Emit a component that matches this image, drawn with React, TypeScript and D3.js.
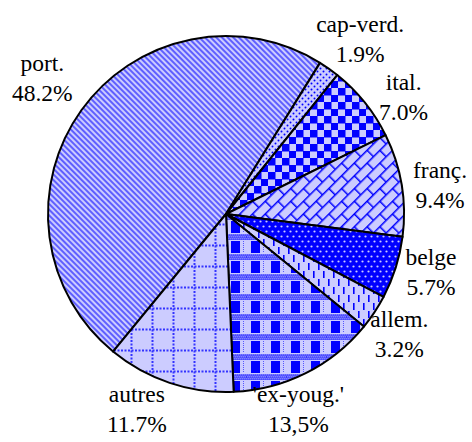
import React from "react";
import * as d3 from "d3";

const categories = ["port.", "cap-verd.", "ital.", "franç.", "belge", "allem.", "'ex-youg.'", "autres"];
const values = [48.2, 1.9, 7.0, 9.4, 5.7, 3.2, 13.5, 11.7];
const percentLabels = ["48.2%", "1.9%", "7.0%", "9.4%", "5.7%", "3.2%", "13,5%", "11.7%"];

// layout constants
const W = 472;
const H = 442;
const CX = 226;
const CY = 214;
const R = 178;
const LABEL_R = 215;
const START = (-140.6 * Math.PI) / 180;
const LIGHT = "#ccccff";
const BLUE = "#0000ff";
const FONT = "'Liberation Serif', 'DejaVu Serif', 'Times New Roman', Times, serif";
const labelNudge: Record<string, [number, number]> = {
  "port.": [-9, -3],
  "cap-verd.": [10, 9],
  "ital.": [10, 26],
  "franç.": [2, 14],
  "belge": [0, 1],
  "allem.": [-6, 9],
  "'ex-youg.'": [-24, 11],
  "autres": [-21, -1],
};

function Patterns() {
  const bandDots: JSX.Element[] = [];
  for (let j = 0; j < 3; j++) {
    for (let i = 0; i < 10; i++) {
      bandDots.push(
        <rect key={`b${i}-${j}`} x={i * 2 + (j % 2) + 0.3} y={j * 2 + 0.3} width={1.1} height={1.1} fill={LIGHT} />
      );
    }
  }
  return (
    <defs>
      {/* port: diagonal stripes */}
      <pattern id="p0" patternUnits="userSpaceOnUse" width={4} height={4} patternTransform="rotate(45)">
        <rect width={4} height={4} fill={LIGHT} />
        <line x1={0} y1={2} x2={4} y2={2} stroke="#3a3aff" strokeWidth={1.5} />
      </pattern>
      {/* cap-verd: small dots */}
      <pattern id="p1" patternUnits="userSpaceOnUse" width={6} height={6}>
        <rect width={6} height={6} fill={LIGHT} />
        <circle cx={1.5} cy={1.5} r={1} fill={BLUE} />
        <circle cx={4.5} cy={4.5} r={1} fill={BLUE} />
      </pattern>
      {/* ital: checkerboard */}
      <pattern id="p2" patternUnits="userSpaceOnUse" width={14} height={14}>
        <rect width={14} height={14} fill={LIGHT} />
        <rect x={0} y={0} width={7.5} height={7.5} fill={BLUE} />
        <rect x={7} y={7} width={7.5} height={7.5} fill={BLUE} />
      </pattern>
      {/* franç: bricks */}
      <pattern id="p3" patternUnits="userSpaceOnUse" width={18} height={18} patternTransform="rotate(-45)">
        <rect width={18} height={18} fill={LIGHT} />
        <path d="M0,0.75H18M0,9.75H18M0.75,0V9.75M9.75,9.75V18" stroke={BLUE} strokeWidth={1.5} fill="none" />
      </pattern>
      {/* belge: blue with light dots */}
      <pattern id="p4" patternUnits="userSpaceOnUse" width={6} height={10}>
        <rect width={6} height={10} fill={BLUE} />
        <circle cx={1.5} cy={2.5} r={1.1} fill={LIGHT} />
        <circle cx={4.5} cy={7.5} r={1.1} fill={LIGHT} />
      </pattern>
      {/* allem: short vertical dashes */}
      <pattern id="p5" patternUnits="userSpaceOnUse" width={10} height={16}>
        <rect width={10} height={16} fill={LIGHT} />
        <rect x={2} y={1} width={1.6} height={7} fill={BLUE} />
        <rect x={7} y={9} width={1.6} height={7} fill={BLUE} />
      </pattern>
      {/* ex-youg: bands and blocks */}
      <pattern id="p6" patternUnits="userSpaceOnUse" width={20} height={20}>
        <rect width={20} height={20} fill={LIGHT} />
        <rect x={0} y={0} width={20} height={6} fill="#3333ff" />
        {bandDots}
        <rect x={5} y={7} width={9} height={12} fill={BLUE} />
        <line x1={17.5} y1={7} x2={17.5} y2={19} stroke="#5555ff" strokeWidth={1} strokeDasharray="1 1" />
      </pattern>
      {/* autres: dotted grid */}
      <pattern id="p7" patternUnits="userSpaceOnUse" width={21} height={21}>
        <rect width={21} height={21} fill={LIGHT} />
        <line x1={0} y1={10.5} x2={21} y2={10.5} stroke="#3333ff" strokeWidth={2} strokeDasharray="2 1.5" />
        <line x1={10.5} y1={0} x2={10.5} y2={21} stroke="#3333ff" strokeWidth={2} strokeDasharray="2 1.5" />
      </pattern>
    </defs>
  );
}

export default function App() {
  const data = categories.map((c, i) => ({ name: c, value: values[i], pct: percentLabels[i], idx: i }));
  const pie = d3
    .pie<any>()
    .sort(null)
    .value((d) => d.value)
    .startAngle(START)
    .endAngle(START + 2 * Math.PI);
  const arcs = pie(data);
  const arc = d3.arc<any>().innerRadius(0).outerRadius(R);
  const labelArc = d3.arc<any>().innerRadius(LABEL_R).outerRadius(LABEL_R);

  return (
    <svg width={W} height={H} style={{ position: "absolute", left: 0, top: 0, background: "#fff" }}>
      <Patterns />
      <g transform={`translate(${CX},${CY})`}>
        {arcs.map((a) => (
          <path
            key={a.data.name}
            d={arc(a) as string}
            fill={`url(#p${a.data.idx})`}
            stroke="#000"
            strokeWidth={2}
            strokeLinejoin="round"
          />
        ))}
        {arcs.map((a) => {
          const [x, y] = labelArc.centroid(a);
          const [nx, ny] = labelNudge[a.data.name] || [0, 0];
          return (
            <g key={`l-${a.data.name}`} transform={`translate(${x + nx},${y + ny})`}>
              <text textAnchor="middle" y={-15} style={{ fontFamily: FONT, fontSize: "23.5px" }} fill="#000">
                {a.data.name}
              </text>
              <text textAnchor="middle" y={15} style={{ fontFamily: FONT, fontSize: "23.5px" }} fill="#000">
                {a.data.pct}
              </text>
            </g>
          );
        })}
      </g>
    </svg>
  );
}
